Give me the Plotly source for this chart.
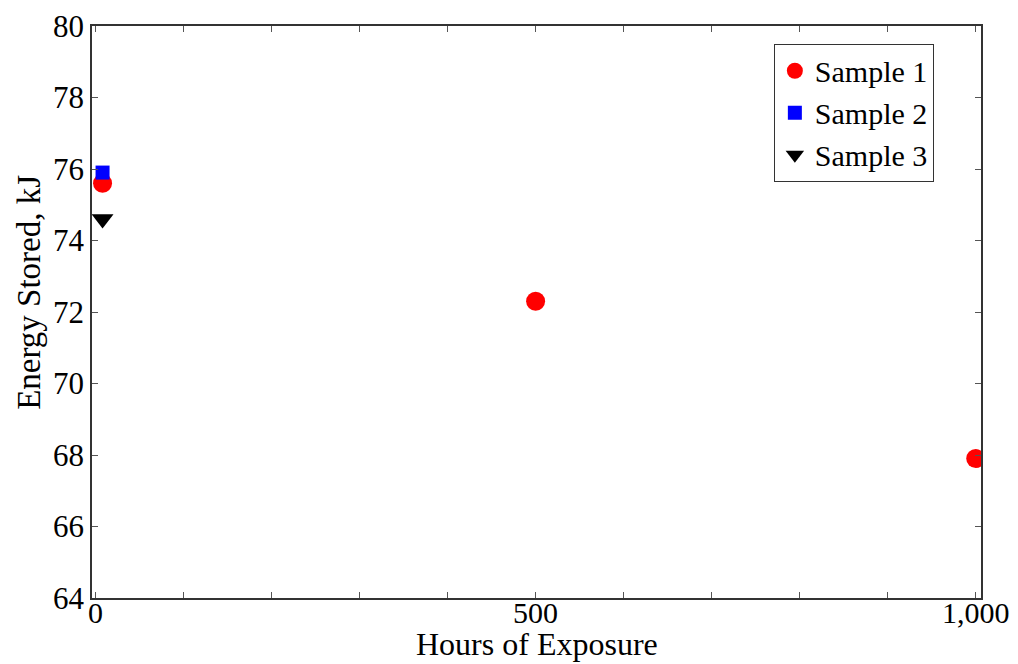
import plotly.graph_objects as go

s1_x = [8, 500, 1000]
s1_y = [75.6, 72.3, 67.9]
s2_x = [8]
s2_y = [75.9]
s3_x = [8]
s3_y = [74.6]

x_tickvals = list(range(0, 1001, 100))
x_ticktext = ["0", "", "", "", "", "500", "", "", "", "", "1,000"]
y_tickvals = list(range(64, 81, 2))

font = "Liberation Serif, Times New Roman, serif"

fig = go.Figure()
fig.add_trace(go.Scatter(x=s1_x, y=s1_y, mode="markers", name="Sample 1",
                         marker=dict(symbol="circle", size=19, color="#ff0000")))
fig.add_trace(go.Scatter(x=s2_x, y=s2_y, mode="markers", name="Sample 2",
                         marker=dict(symbol="square", size=14, color="#0000ff")))
fig.add_trace(go.Scatter(x=s3_x, y=s3_y, mode="markers", name="Sample 3",
                         marker=dict(symbol="triangle-down", size=19, color="#000000")))

fig.update_layout(
    width=1010, height=656,
    margin=dict(l=84, r=37, t=18, b=66, autoexpand=False),
    paper_bgcolor="white", plot_bgcolor="white",
    font=dict(family=font, color="black", size=30),
    showlegend=True,
    legend=dict(x=0.767, y=0.969, xanchor="left", yanchor="top",
                bordercolor="#333333", borderwidth=1, bgcolor="white",
                font=dict(size=30, family=font), itemsizing="trace",
                tracegroupgap=0),
    xaxis=dict(range=[-4, 1006], tickvals=x_tickvals, ticktext=x_ticktext,
               ticks="inside", ticklen=6, tickcolor="#555555",
               showline=True, linecolor="#333333", linewidth=1.5, mirror="ticks",
               showgrid=False, zeroline=False, automargin=False,
               ticklabelposition="outside", ticklabelstandoff=-13,
               tickfont=dict(size=30, family=font)),
    yaxis=dict(range=[64, 80], tickvals=y_tickvals,
               ticks="inside", ticklen=6, tickcolor="#555555",
               showline=True, linecolor="#333333", linewidth=1.5, mirror="ticks",
               showgrid=False, zeroline=False, automargin=False,
               tickfont=dict(size=31, family=font)),
    annotations=[
        dict(text="Energy Stored, kJ", textangle=-90, showarrow=False,
             xref="paper", yref="paper", x=-0.071, y=0.535,
             xanchor="center", yanchor="middle",
             font=dict(size=33, family=font, color="black")),
        dict(text="Hours of Exposure", showarrow=False,
             xref="paper", yref="paper", x=0.5, y=-0.1154,
             xanchor="center", yanchor="bottom",
             font=dict(size=32, family=font, color="black")),
    ],
)

fig.write_html("out.html")
